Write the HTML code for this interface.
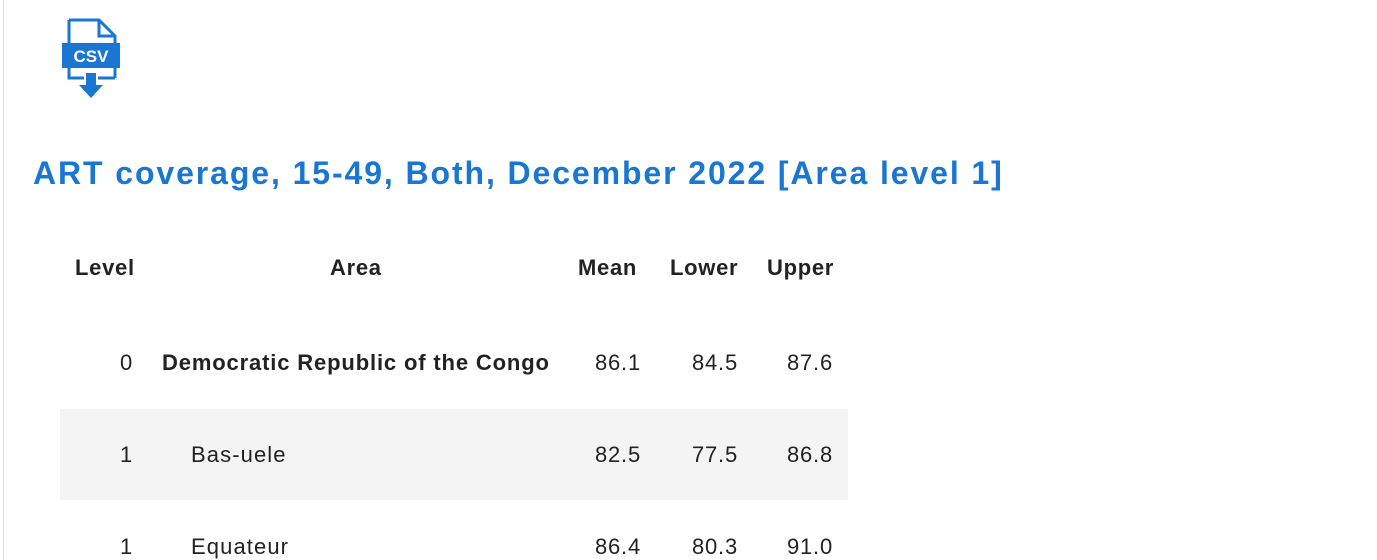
<!DOCTYPE html>
<html><head><meta charset="utf-8">
<style>
html,body{margin:0;padding:0;width:1377px;height:560px;overflow:hidden;background:#fff;font-family:"Liberation Sans",sans-serif;}
.border{position:absolute;left:3px;top:0;width:1px;height:560px;background:#ddd;}
.title{position:absolute;left:33px;top:155px;font-size:32px;font-weight:bold;color:#1976d2;letter-spacing:1.9px;white-space:nowrap;}
.cell{position:absolute;font-size:22px;color:#222;white-space:nowrap;letter-spacing:0.8px;}
.h{font-weight:bold;letter-spacing:0.7px;}
.n{text-align:right;width:80px;}
.band{position:absolute;left:60px;top:409px;width:788px;height:91px;background:#f4f4f4;}
</style></head><body>
<div class="border"></div>
<svg style="position:absolute;left:60px;top:18px" width="62" height="84" viewBox="0 0 62 84">
 <path d="M9 2 H39 L55 18 V60 M9 50 V2 M9 50 V60 H24 M38 60 H55" fill="none" stroke="#1976d2" stroke-width="3"/>
 <path d="M39 2 V18 H55" fill="none" stroke="#1976d2" stroke-width="3"/>
 <rect x="2" y="25" width="58" height="25" fill="#1976d2"/>
 <text x="31" y="44" text-anchor="middle" font-family="Liberation Sans, sans-serif" font-weight="bold" font-size="17" fill="#fff">CSV</text>
 <rect x="26" y="55" width="10" height="12" fill="#1976d2"/>
 <polygon points="19,67 43,67 31,80" fill="#1976d2"/>
</svg>
<div class="title">ART coverage, 15-49, Both, December 2022 [Area level 1]</div>
<div class="band"></div>

<div class="cell h" style="left:75px;top:255px">Level</div>
<div class="cell h" style="left:330px;top:255px">Area</div>
<div class="cell h" style="left:578px;top:255px">Mean</div>
<div class="cell h" style="left:670px;top:255px">Lower</div>
<div class="cell h" style="left:767px;top:255px">Upper</div>

<div class="cell n" style="left:53px;top:350px">0</div>
<div class="cell h" style="left:162px;top:350px;letter-spacing:0.85px">Democratic Republic of the Congo</div>
<div class="cell n" style="left:561px;top:350px">86.1</div>
<div class="cell n" style="left:658px;top:350px">84.5</div>
<div class="cell n" style="left:753px;top:350px">87.6</div>

<div class="cell n" style="left:53px;top:442px">1</div>
<div class="cell" style="left:191px;top:442px;letter-spacing:1.1px">Bas-uele</div>
<div class="cell n" style="left:561px;top:442px">82.5</div>
<div class="cell n" style="left:658px;top:442px">77.5</div>
<div class="cell n" style="left:753px;top:442px">86.8</div>

<div class="cell n" style="left:53px;top:534px">1</div>
<div class="cell" style="left:191px;top:534px;letter-spacing:1.1px">Equateur</div>
<div class="cell n" style="left:561px;top:534px">86.4</div>
<div class="cell n" style="left:658px;top:534px">80.3</div>
<div class="cell n" style="left:753px;top:534px">91.0</div>
</body></html>
